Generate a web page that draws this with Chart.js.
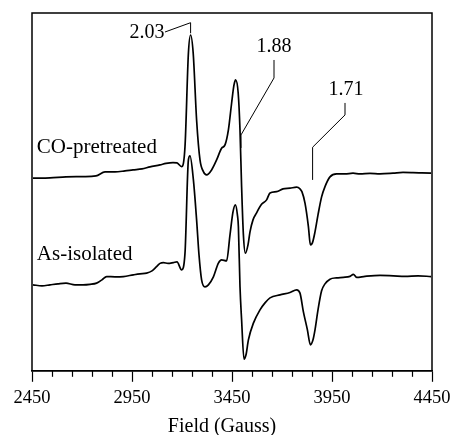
<!DOCTYPE html>
<html>
<head>
<meta charset="utf-8">
<script src="https://cdn.jsdelivr.net/npm/chart.js@4"></script>
<style>
  html, body { margin: 0; padding: 0; background: #fff; }
  canvas { display: block; }
</style>
</head>
<body>
<canvas id="c" width="450" height="435"></canvas>
<script>
// ---- Data (field in Gauss, intensity in arbitrary units) ----
const coField = [2455,2540,2620,2705,2770,2815,2865,2915,2955,3000,3040,3090,3120,3155,3175,3198,3215,3232,3243,3256,3273,3290,3307,3323,3348,3373,3398,3415,3432,3448,3460,3468,3481,3490,3498,3507,3517,3530,3540,3555,3573,3595,3623,3640,3673,3705,3740,3773,3790,3800,3815,3832,3842,3852,3865,3880,3898,3915,3940,3973,4015,4055,4090,4140,4190,4255,4305,4355,4400,4445];
const coIntensity = [192.7,193,194,194.3,195,199,199,200,201,202,204,206,207.5,208.3,208,204.3,224.3,317.7,336,317.7,251,211,199.3,196,201,211,222.7,226,241,267.7,286,291,277.7,241,184.3,136,117.7,126,139,151,158,166,171,178,179.3,182,182.7,183.7,182,179,167.7,144.3,126,128,139,156,174,184.3,194,197,197,197.7,197,197.5,197,197.7,198.5,198.3,198,197.7];

const asField = [2455,2500,2540,2580,2620,2665,2705,2740,2773,2800,2823,2865,2907,2957,2990,3023,3050,3073,3090,3107,3130,3157,3175,3198,3215,3232,3240,3257,3273,3285,3298,3315,3332,3357,3382,3398,3423,3440,3455,3467,3477,3482,3490,3498,3510,3520,3532,3557,3590,3615,3640,3690,3740,3773,3790,3807,3827,3842,3855,3865,3880,3898,3915,3940,3973,4007,4040,4057,4073,4115,4190,4257,4315,4380,4445];
const asIntensity = [86,85,86,87,87.7,86,86,86.5,87.7,91,94.3,94,94.3,96,97,97.7,100,104.3,107.5,108.3,107.5,108.3,109,101,117.7,211,215,191,151,116,91,84,86,94,107.7,111,110,136,159,166,156,144,84,51,11.7,16,31,47.7,61,68,73,76,78.3,81,77.7,59,41,26,31,41,61,80,87,91.7,93,93.5,94.5,96.5,93.5,94.5,95.5,95,94.5,95,94.3];

const xTickValues = [2450, 2950, 3450, 3950, 4450];
const xAxisTitle = 'Field (Gauss)';
const seriesNames = ['CO-pretreated', 'As-isolated'];

// Peak labels (g-values) and their leader lines, in data coordinates
const gLabels = ['2.03', '1.88', '1.71'];
const gLabelAnchors = [[3025, 338], [3660, 324], [4020, 281]];
const gLeaders = [
  [[3115, 339], [3243, 348.3], [3243, 337.7]],
  [[3660, 311], [3660, 293], [3495, 236], [3495, 223]],
  [[4015, 268], [4015, 256], [3853, 223.7], [3853, 191]]
];
// Trace name labels (left-aligned), in data coordinates
const nameAnchors = [[2474, 223], [2474, 116]];
// Axis-title anchor (field value under its centre)
const xTitleAnchor = 3400;

const SERIF = '"Liberation Serif", "Times New Roman", Times, serif';

function pts(xs, ys) { return xs.map((x, i) => ({ x: x, y: ys[i] })); }

const framePlugin = {
  id: 'frame',
  afterDraw(chart) {
    const { ctx, chartArea: a, scales } = chart;
    const xs = scales.x;
    ctx.save();
    ctx.strokeStyle = '#000';
    ctx.lineWidth = 1.5;
    ctx.strokeRect(a.left, a.top, a.right - a.left, a.bottom - a.top);
    // minor ticks every 100 G
    ctx.lineWidth = 1.2;
    for (let v = xs.min; v <= xs.max; v += 100) {
      if ((v - xs.min) % 500 === 0) continue;
      const px = Math.round(xs.getPixelForValue(v)) + 0.5;
      ctx.beginPath();
      ctx.moveTo(px, a.bottom);
      ctx.lineTo(px, a.bottom + 6);
      ctx.stroke();
    }
    // axis title
    ctx.fillStyle = '#000';
    ctx.font = '20px ' + SERIF;
    ctx.textAlign = 'center';
    ctx.textBaseline = 'middle';
    ctx.fillText(xAxisTitle, xs.getPixelForValue(xTitleAnchor), xs.bottom + 13);
    ctx.restore();
  }
};

const labelPlugin = {
  id: 'labels',
  afterDatasetsDraw(chart) {
    const { ctx, scales } = chart;
    const X = v => scales.x.getPixelForValue(v);
    const Y = v => scales.y.getPixelForValue(v);
    ctx.save();
    ctx.strokeStyle = '#000';
    ctx.fillStyle = '#000';
    ctx.lineWidth = 1;
    gLeaders.forEach(line => {
      ctx.beginPath();
      line.forEach((p, i) => {
        if (i === 0) ctx.moveTo(X(p[0]), Y(p[1]));
        else ctx.lineTo(X(p[0]), Y(p[1]));
      });
      ctx.stroke();
    });
    ctx.textBaseline = 'middle';
    ctx.textAlign = 'center';
    ctx.font = '20px ' + SERIF;
    gLabels.forEach((t, i) => {
      ctx.fillText(t, X(gLabelAnchors[i][0]), Y(gLabelAnchors[i][1]));
    });
    ctx.textAlign = 'left';
    ctx.font = '21px ' + SERIF;
    seriesNames.forEach((t, i) => {
      ctx.fillText(t, X(nameAnchors[i][0]), Y(nameAnchors[i][1]));
    });
    ctx.restore();
  }
};

new Chart(document.getElementById('c'), {
  type: 'line',
  data: {
    datasets: [
      {
        label: seriesNames[0],
        data: pts(coField, coIntensity),
        borderColor: '#000',
        borderWidth: 1.7,
        pointRadius: 0,
        fill: false,
        cubicInterpolationMode: 'monotone'
      },
      {
        label: seriesNames[1],
        data: pts(asField, asIntensity),
        borderColor: '#000',
        borderWidth: 1.7,
        pointRadius: 0,
        fill: false,
        cubicInterpolationMode: 'monotone'
      }
    ]
  },
  options: {
    responsive: false,
    animation: false,
    devicePixelRatio: 1,
    layout: { padding: { left: 32, right: 18, top: 13, bottom: 21 } },
    plugins: { legend: { display: false }, tooltip: { enabled: false } },
    scales: {
      x: {
        type: 'linear',
        min: 2450,
        max: 4450,
        afterBuildTicks: axis => { axis.ticks = xTickValues.map(v => ({ value: v })); },
        afterFit: axis => { axis.paddingLeft = 0; axis.paddingRight = 0; },
        ticks: {
          color: '#000',
          font: { family: SERIF, size: 18.5 },
          padding: 5,
          maxRotation: 0,
          autoSkip: false,
          callback: v => String(v)
        },
        grid: {
          display: true,
          drawOnChartArea: false,
          drawTicks: true,
          tickLength: 11,
          tickWidth: 1.2,
          tickColor: '#000',
          color: '#000'
        },
        border: { display: true, color: '#000', width: 1.5 },
        title: { display: false }
      },
      y: {
        display: false,
        min: 0,
        max: 358
      }
    }
  },
  plugins: [framePlugin, labelPlugin]
});
</script>
</body>
</html>
